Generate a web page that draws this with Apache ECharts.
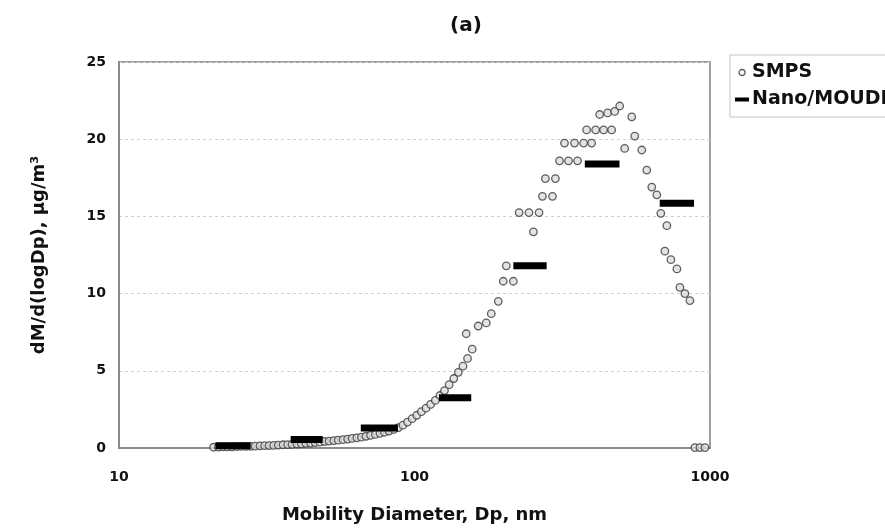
<!DOCTYPE html>
<html>
<head>
<meta charset="utf-8">
<title>(a) Mass size distribution</title>
<script src="https://cdn.jsdelivr.net/npm/echarts@6/dist/echarts.min.js"></script>
<style>
  html, body { margin: 0; padding: 0; background: #fff; }
  #chart { width: 885px; height: 529px; }
</style>
</head>
<body>
<div id="chart"></div>
<script>
// SMPS mobility diameters (nm) and mass distribution dM/dlogDp (ug/m3)
const smpsDiameter = [
  20.9, 21.7, 22.5, 23.3, 24.1, 25.0, 25.9, 26.9, 27.9, 28.9,
  30.0, 31.1, 32.2, 33.4, 34.6, 35.9, 37.2, 38.5, 40.0, 41.4,
  42.9, 44.5, 46.1, 47.8, 49.6, 51.4, 53.3, 55.2, 57.3, 59.4,
  61.5, 63.8, 66.1, 68.5, 71.0, 73.7, 76.4, 79.1, 82.0, 85.1,
  88.2, 91.4, 94.7, 98.2, 101.8, 105.5, 109.4, 113.4, 117.6, 121.9,
  126.3, 131.0, 135.8, 140.7, 145.9, 149.6, 151.2, 156.8, 164.3, 174.9,
  181.9, 192.1, 199.7, 204.5, 216.0, 226.0, 244.0, 252.6, 264.0, 271.0,
  277.3, 293.0, 299.8, 309.6, 321.8, 332.0, 348.0, 356.2, 373.5, 382.3,
  397.5, 410.2, 423.2, 436.5, 450.4, 464.7, 475.8, 494.8, 514.4, 543.5,
  556.4, 587.6, 611.0, 635.3, 660.7, 681.7, 703.5, 714.5, 737.3, 772.7,
  791.0, 822.3, 855.0, 889.0, 924.5, 961.6
];
const smpsMass = [
  0.05, 0.06, 0.07, 0.07, 0.08, 0.09, 0.10, 0.11, 0.11, 0.12,
  0.14, 0.15, 0.16, 0.17, 0.19, 0.21, 0.22, 0.24, 0.26, 0.27,
  0.30, 0.32, 0.35, 0.38, 0.42, 0.45, 0.48, 0.51, 0.54, 0.58,
  0.62, 0.66, 0.70, 0.76, 0.82, 0.88, 0.95, 1.02, 1.10, 1.20,
  1.32, 1.48, 1.68, 1.90, 2.12, 2.35, 2.58, 2.82, 3.08, 3.40,
  3.72, 4.10, 4.50, 4.90, 5.30, 7.40, 5.80, 6.40, 7.90, 8.10,
  8.70, 9.50, 10.80, 11.80, 10.80, 15.25, 15.25, 14.00, 15.25, 16.30,
  17.45, 16.30, 17.45, 18.60, 19.75, 18.60, 19.75, 18.60, 19.75, 20.60,
  19.75, 20.60, 21.60, 20.60, 21.70, 20.60, 21.80, 22.15, 19.40, 21.45,
  20.20, 19.30, 18.00, 16.90, 16.40, 15.20, 12.75, 14.40, 12.20, 11.60,
  10.40, 10.00, 9.55, 0.03, 0.03, 0.03
];

// Nano-MOUDI stages: drawn diameter span (nm) and stage mass (ug/m3)
const moudiStart = [21.2, 38.1, 65.8, 121.0, 216.0, 377.0, 676.0];
const moudiEnd   = [27.9, 48.9, 87.9, 155.6, 280.0, 494.0, 883.0];
const moudiMass  = [0.15, 0.55, 1.30, 3.25, 11.80, 18.40, 15.85];

// Axis ticks
const yTicks = [0, 5, 10, 15, 20, 25];
const xRange = [10, 1000];

const smpsData = smpsDiameter.map((d, i) => [d, smpsMass[i]]);
const moudiData = moudiStart.map((d, i) => [d, moudiEnd[i], moudiMass[i]]);

const chart = echarts.init(document.getElementById('chart'), null, { renderer: 'canvas' });

const fontFamily = '"DejaVu Sans", "Liberation Sans", Arial, sans-serif';

chart.setOption({
  backgroundColor: '#ffffff',
  animation: false,
  title: {
    text: '(a)',
    left: 445,
    top: 11,
    textStyle: { fontFamily, fontSize: 20, fontWeight: 'bold', color: '#111' }
  },
  legend: {
    orient: 'vertical',
    left: 730,
    top: 55,
    padding: [8, 12, 8, 5],
    itemGap: 8,
    itemWidth: 14,
    itemHeight: 6,
    borderColor: '#c4c4c4',
    borderWidth: 1,
    textStyle: { fontFamily, fontSize: 19, fontWeight: 'bold', color: '#111', padding: [0, 0, 0, -2] },
    data: [
      { name: 'SMPS', icon: 'circle', itemStyle: { color: '#ffffff', borderColor: '#333', borderWidth: 1.3 } },
      { name: 'Nano/MOUDI', icon: 'path://M0,0H14V4H0Z', itemStyle: { color: '#000' } }
    ]
  },
  grid: {
    left: 119,
    right: 175,
    top: 62,
    bottom: 79,
    show: true,
    borderColor: '#a0a0a0',
    borderWidth: 2,
    backgroundColor: '#ffffff'
  },
  xAxis: {
    type: 'log',
    logBase: 10,
    min: xRange[0],
    max: xRange[1],
    name: 'Mobility Diameter, Dp, nm',
    nameLocation: 'middle',
    nameGap: 58,
    nameTextStyle: { fontFamily, fontSize: 18, fontWeight: 'bold', color: '#111' },
    axisLine: { show: true, lineStyle: { color: '#8c8c8c', width: 2 } },
    axisTick: { show: false },
    minorTick: { show: false },
    splitLine: { show: false },
    axisLabel: {
      margin: 22,
      fontFamily, fontSize: 14, fontWeight: 'bold', color: '#111',
      formatter: v => String(Math.round(v))
    }
  },
  yAxis: {
    type: 'value',
    min: yTicks[0],
    max: yTicks[yTicks.length - 1],
    interval: 5,
    name: 'dM/d(logDp), \u03bcg/m\u00b3',
    nameLocation: 'middle',
    nameGap: 71,
    nameTextStyle: { fontFamily, fontSize: 18, fontWeight: 'bold', color: '#111' },
    axisLine: { show: true, lineStyle: { color: '#8c8c8c', width: 2 } },
    axisTick: { show: false },
    splitLine: { show: true, lineStyle: { color: '#cfcfcf', width: 1, type: [3, 3] } },
    axisLabel: { margin: 13, fontFamily, fontSize: 14, fontWeight: 'bold', color: '#111' }
  },
  series: [
    {
      name: 'SMPS',
      type: 'scatter',
      data: smpsData,
      symbol: 'circle',
      symbolSize: 7.5,
      itemStyle: { color: '#dcdcdc', borderColor: '#3a3a3a', borderWidth: 1.3 },
      z: 2
    },
    {
      name: 'Nano/MOUDI',
      type: 'custom',
      data: moudiData,
      encode: { x: [0, 1], y: 2 },
      itemStyle: { color: '#000' },
      renderItem: function (params, api) {
        const p0 = api.coord([api.value(0), api.value(2)]);
        const p1 = api.coord([api.value(1), api.value(2)]);
        return {
          type: 'rect',
          shape: { x: p0[0], y: p0[1] - 3.5, width: p1[0] - p0[0], height: 7 },
          style: { fill: '#000' }
        };
      },
      z: 3
    }
  ]
});
</script>
</body>
</html>
